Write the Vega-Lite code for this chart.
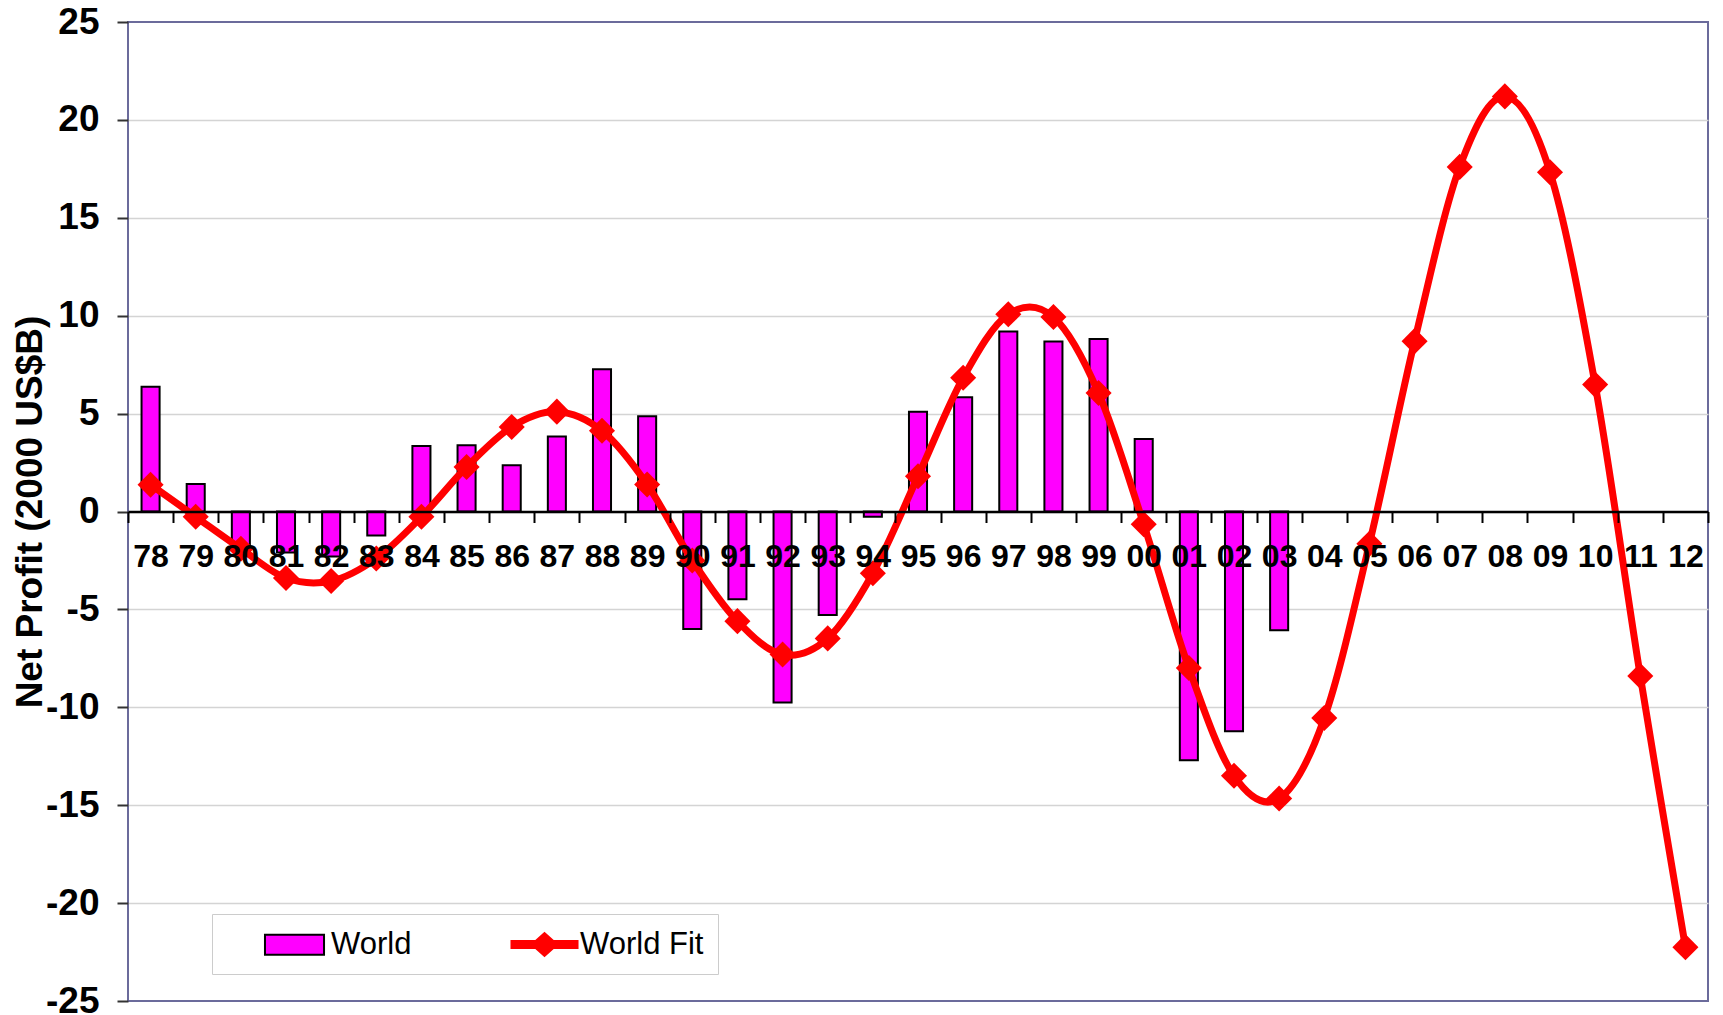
{
  "$schema": "https://vega.github.io/schema/vega-lite/v6.json",
  "width": 1580,
  "height": 979,
  "autosize": {"type": "none"},
  "padding": {"left": 128, "top": 22, "right": 15, "bottom": 14},
  "background": "white",
  "config": {
    "font": "Liberation Sans",
    "view": {"stroke": "#6b6b9b", "strokeWidth": 2}
  },
  "data": {
    "values": [
      {"yr": "78", "world": 6.37, "fit": 1.37},
      {"yr": "79", "world": 1.41, "fit": -0.27},
      {"yr": "80", "world": -2.0, "fit": -1.9},
      {"yr": "81", "world": -2.1, "fit": -3.4},
      {"yr": "82", "world": -2.3, "fit": -3.55},
      {"yr": "83", "world": -1.22, "fit": -2.4},
      {"yr": "84", "world": 3.34, "fit": -0.27},
      {"yr": "85", "world": 3.38, "fit": 2.27},
      {"yr": "86", "world": 2.36, "fit": 4.32},
      {"yr": "87", "world": 3.83, "fit": 5.1},
      {"yr": "88", "world": 7.27, "fit": 4.12},
      {"yr": "89", "world": 4.86, "fit": 1.38},
      {"yr": "90", "world": -6.0, "fit": -2.5},
      {"yr": "91", "world": -4.48, "fit": -5.6},
      {"yr": "92", "world": -9.75, "fit": -7.3},
      {"yr": "93", "world": -5.29, "fit": -6.48},
      {"yr": "94", "world": -0.27, "fit": -3.15},
      {"yr": "95", "world": 5.09, "fit": 1.8},
      {"yr": "96", "world": 5.84, "fit": 6.83},
      {"yr": "97", "world": 9.19, "fit": 10.07},
      {"yr": "98", "world": 8.68, "fit": 9.93},
      {"yr": "99", "world": 8.81, "fit": 6.05},
      {"yr": "00", "world": 3.7, "fit": -0.65},
      {"yr": "01", "world": -12.7, "fit": -7.99},
      {"yr": "02", "world": -11.22, "fit": -13.5},
      {"yr": "03", "world": -6.06, "fit": -14.66},
      {"yr": "04", "world": null, "fit": -10.55},
      {"yr": "05", "world": null, "fit": -1.65},
      {"yr": "06", "world": null, "fit": 8.7},
      {"yr": "07", "world": null, "fit": 17.6},
      {"yr": "08", "world": null, "fit": 21.2},
      {"yr": "09", "world": null, "fit": 17.33},
      {"yr": "10", "world": null, "fit": 6.48},
      {"yr": "11", "world": null, "fit": -8.4},
      {"yr": "12", "world": null, "fit": -22.25}
    ]
  },
  "encoding": {
    "x": {
      "field": "yr",
      "type": "ordinal",
      "scale": {
        "domain": ["78","79","80","81","82","83","84","85","86","87","88","89","90","91","92","93","94","95","96","97","98","99","00","01","02","03","04","05","06","07","08","09","10","11","12"],
        "paddingInner": 0,
        "paddingOuter": 0
      },
      "axis": {
        "title": null,
        "orient": "bottom",
        "offset": -489.5,
        "domainColor": "black",
        "domainWidth": 2.5,
        "tickBand": "extent",
        "tickSize": 11,
        "tickWidth": 2,
        "tickColor": "black",
        "labelFont": "Liberation Sans",
        "labelFontSize": 32,
        "labelFontWeight": "bold",
        "labelColor": "black",
        "labelPadding": 19,
        "labelAngle": 0,
        "labelOverlap": false,
        "grid": false,
        "zindex": 1
      }
    }
  },
  "layer": [
    {
      "mark": {"type": "bar", "width": {"band": 0.4}, "strokeWidth": 2},
      "encoding": {
        "y": {
          "field": "world",
          "type": "quantitative",
          "scale": {"domain": [-25, 25], "nice": false, "zero": false},
          "axis": {
            "title": "Net Profit (2000 US$B)",
            "values": [-25, -20, -15, -10, -5, 0, 5, 10, 15, 20, 25],
            "labelExpr": "'' + datum.value",
            "grid": true,
            "gridColor": "#d4d4d4",
            "gridWidth": 1.5,
            "gridOpacity": {"condition": {"test": "abs(datum.value) >= 25", "value": 0}, "value": 1},
            "domain": false,
            "tickSize": 11,
            "tickWidth": 2,
            "tickColor": "#333333",
            "labelFont": "Liberation Sans",
            "labelFontWeight": "bold",
            "labelFontSize": 37,
            "labelColor": "black",
            "labelPadding": 18,
            "titleFont": "Liberation Sans",
            "titleFontSize": 37,
            "titleFontWeight": "bold",
            "titleColor": "black",
            "titleBaseline": "alphabetic",
            "titlePadding": 4,
            "zindex": 0
          }
        },
        "fill": {
          "datum": "World",
          "type": "nominal",
          "scale": {"domain": ["World", "World Fit"], "range": ["#ff00ff", "#ff0000"]},
          "legend": {
            "title": null,
            "orient": "none",
            "legendX": 84,
            "legendY": 892,
            "direction": "horizontal",
            "padding": 14,
            "strokeColor": "#cccccc",
            "fillColor": "white",
            "symbolSize": 961,
            "symbolStrokeWidth": 2,
            "labelOffset": 72,
            "columnPadding": 63,
            "labelFont": "Liberation Sans",
            "labelFontSize": 31,
            "labelFontWeight": "normal",
            "labelColor": "black"
          }
        },
        "stroke": {
          "datum": "World",
          "type": "nominal",
          "scale": {"domain": ["World", "World Fit"], "range": ["#000000", "#ff0000"]},
          "legend": {"title": null}
        }
      }
    },
    {
      "mark": {"type": "line", "strokeWidth": 7, "interpolate": "cardinal", "tension": 0},
      "encoding": {
        "y": {"field": "fit", "type": "quantitative"},
        "stroke": {"datum": "World Fit", "type": "nominal", "legend": {"title": null}}
      }
    },
    {
      "mark": {"type": "point", "shape": "diamond", "filled": true, "size": 680, "opacity": 1, "strokeWidth": 0},
      "encoding": {
        "y": {"field": "fit", "type": "quantitative"},
        "fill": {"datum": "World Fit", "type": "nominal", "legend": {"title": null}}
      }
    },
    {
      "transform": [{"filter": "datum.fit > 1000"}],
      "mark": {"type": "point", "filled": true},
      "encoding": {
        "y": {"field": "fit", "type": "quantitative"},
        "shape": {
          "datum": "World",
          "type": "nominal",
          "scale": {"domain": ["World", "World Fit"], "range": ["M1.45,-0.645H5.26V0.645H1.45Z", "M1.29,-0.226H5.55V0.226H1.29Z M2.6,0L3.42,-0.74L4.24,0L3.42,0.74Z"]},
          "legend": {"title": null}
        }
      }
    }
  ]
}
